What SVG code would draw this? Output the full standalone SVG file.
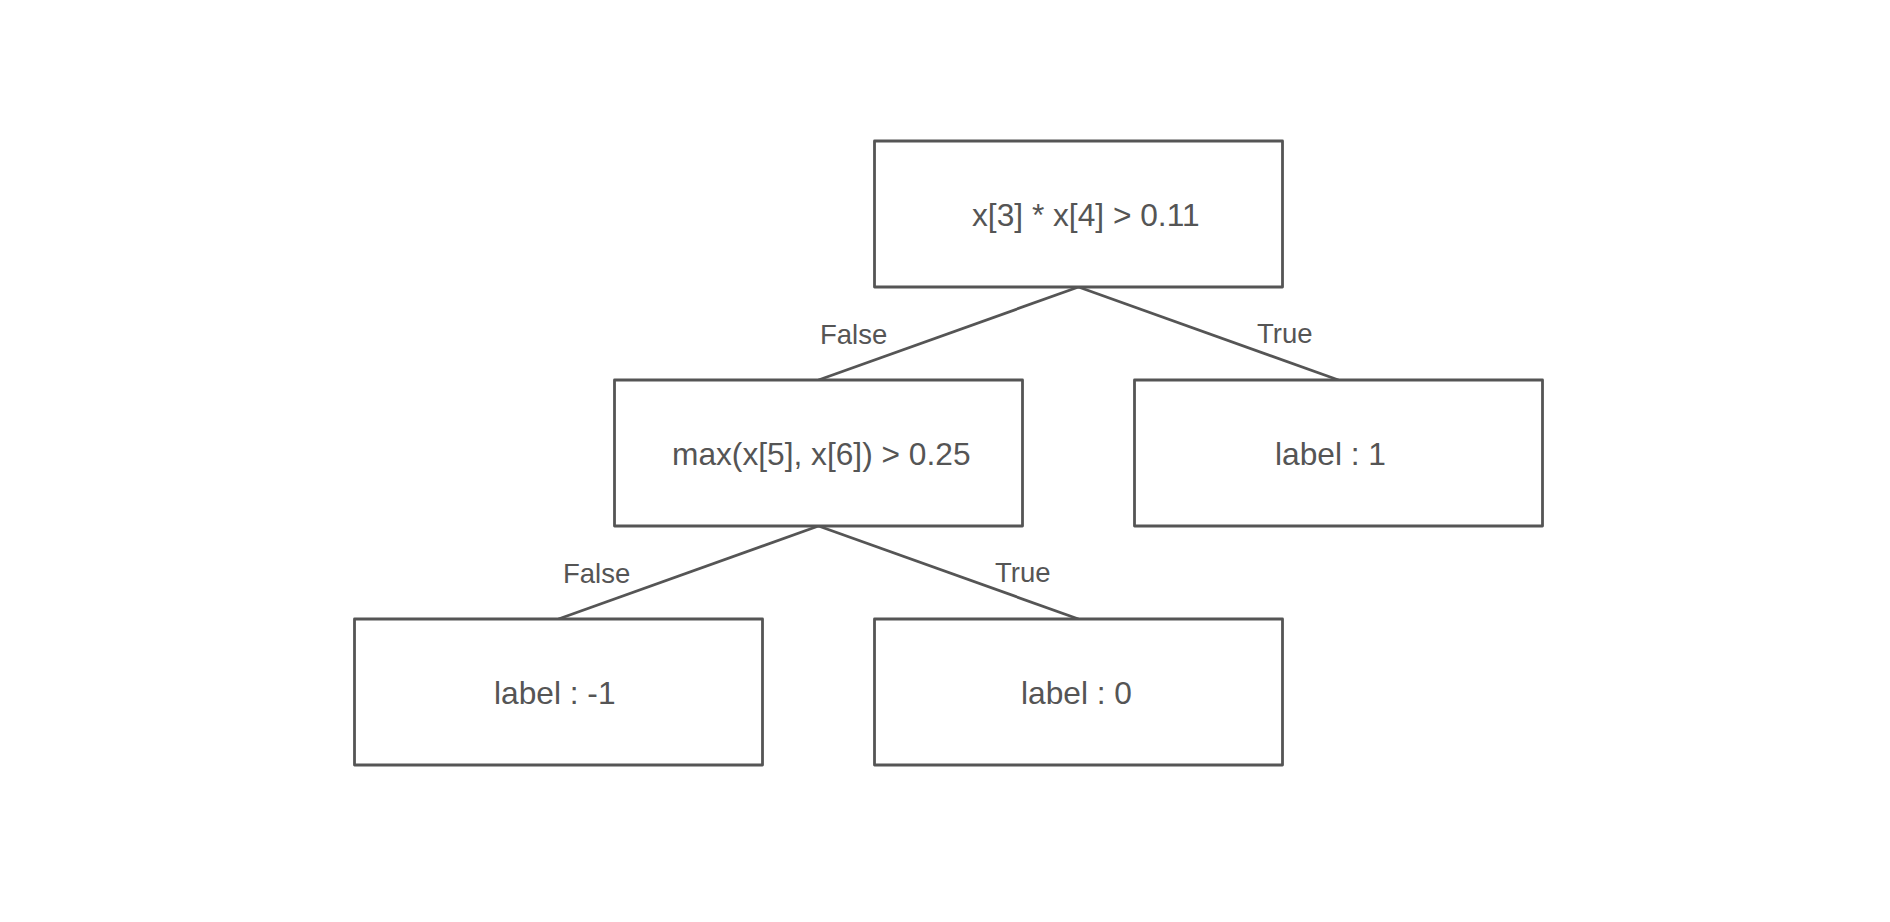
<svg xmlns="http://www.w3.org/2000/svg" width="1890" height="922" viewBox="0 0 1890 922">
<style>
.box{fill:#ffffff;stroke:#555555;stroke-width:2.8;stroke-linejoin:round}
.edge{stroke:#555555;stroke-width:2.8;fill:none}
.t{font-family:"Liberation Sans",Arial,sans-serif;font-size:31.7px;fill:#555555}
.e{font-family:"Liberation Sans",Arial,sans-serif;font-size:27.5px;fill:#555555}
</style>
<rect width="1890" height="922" fill="#ffffff"/>
<g id="connectors">
<line class="edge" x1="1078.5" y1="287" x2="818.5" y2="380"/>
<line class="edge" x1="1078.5" y1="287" x2="1338.5" y2="380"/>
<line class="edge" x1="818.5" y1="526" x2="558.5" y2="619"/>
<line class="edge" x1="818.5" y1="526" x2="1078.5" y2="619"/>
<text class="e" x="820" y="344">False</text>
<text class="e" x="1257" y="343">True</text>
<text class="e" x="563" y="583">False</text>
<text class="e" x="995" y="582">True</text>
</g>
<g id="root">
<rect class="box" x="874.5" y="141" width="408" height="146"/>
<text class="t" x="972" y="226">x[3] * x[4] &gt; 0.11</text>
</g>
<g id="node-max">
<rect class="box" x="614.5" y="380" width="408" height="146"/>
<text class="t" x="672" y="465">max(x[5], x[6]) &gt; 0.25</text>
</g>
<g id="leaf-1">
<rect class="box" x="1134.5" y="380" width="408" height="146"/>
<text class="t" x="1275" y="465">label : 1</text>
</g>
<g id="leaf-neg1">
<rect class="box" x="354.5" y="619" width="408" height="146"/>
<text class="t" x="494" y="704">label : -1</text>
</g>
<g id="leaf-0">
<rect class="box" x="874.5" y="619" width="408" height="146"/>
<text class="t" x="1021" y="704">label : 0</text>
</g>
</svg>
